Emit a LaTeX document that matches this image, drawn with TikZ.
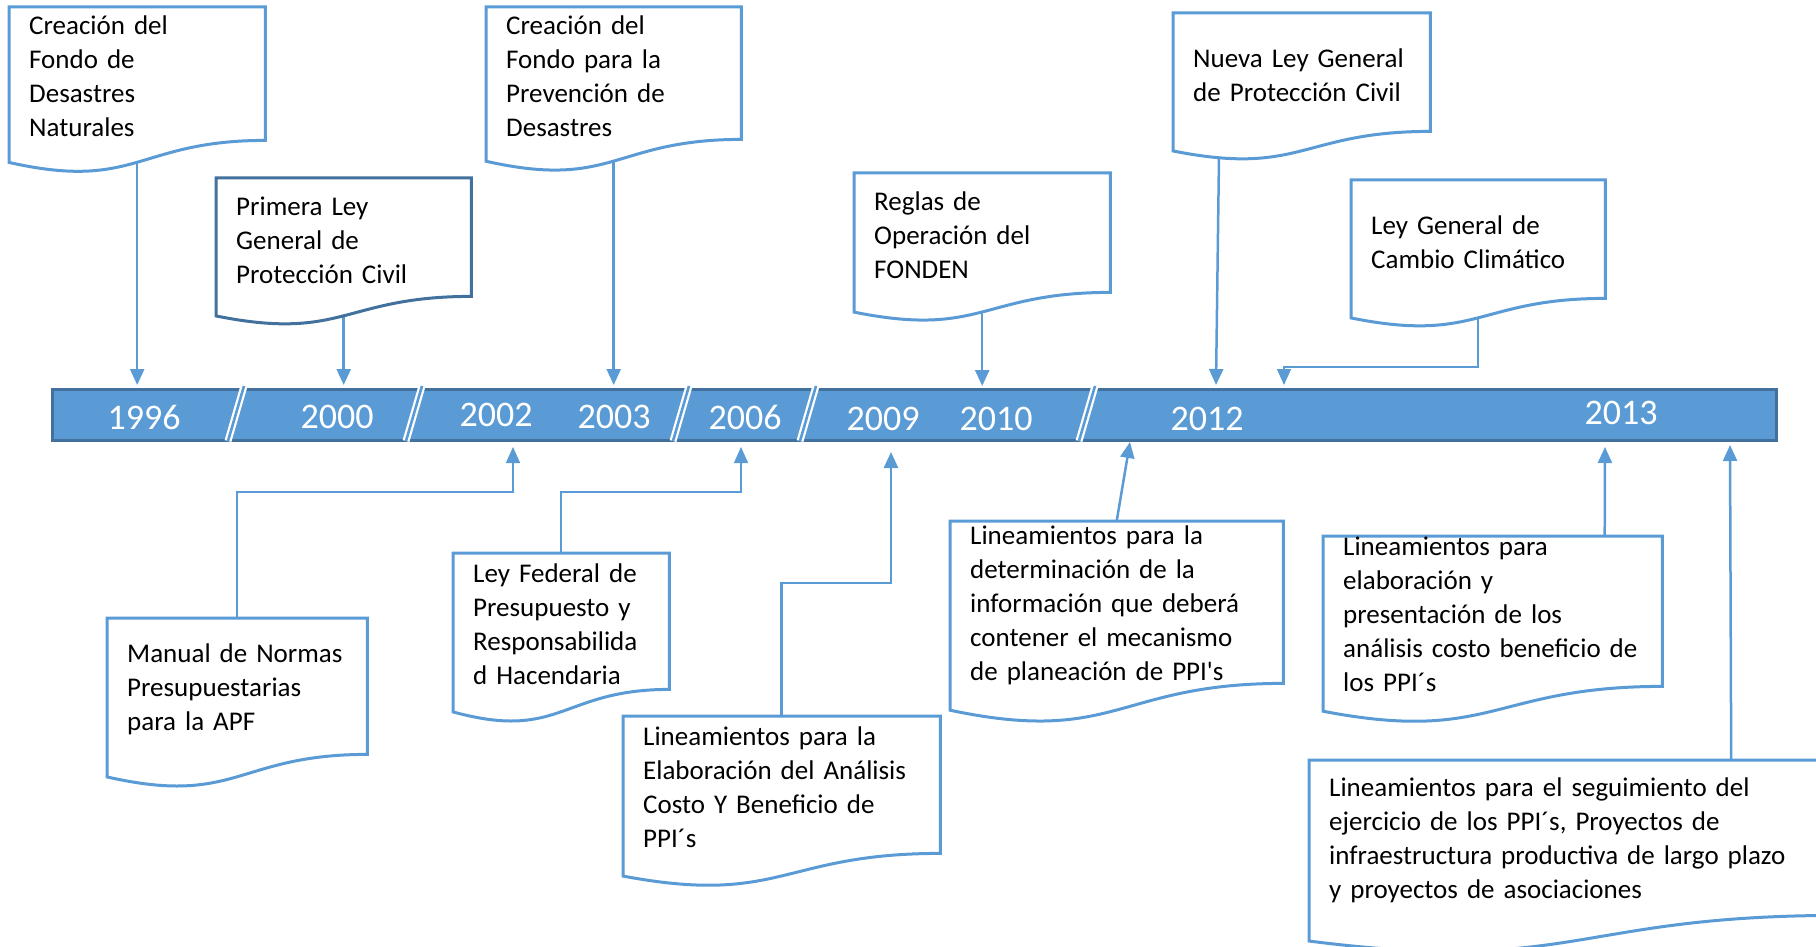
\documentclass[tikz,border=0pt]{standalone}
\usepackage{fontspec}
\setmainfont{Carlito}
\usetikzlibrary{calc,arrows.meta,backgrounds}
\definecolor{boxblue}{HTML}{5B9BD5}
\definecolor{darkblue}{HTML}{41719C}

\tikzset{
  doc/.style={anchor=north west, inner xsep=20pt, inner ysep=-8pt, align=left,
    font=\fontsize{27}{34}\selectfont, execute at begin node={\rule{0pt}{24pt}}},
  docline/.style={draw=#1, line width=3pt, fill=white},
  bar/.style={anchor=north west, minimum width=1724pt, minimum height=51pt, inner sep=0pt,
    fill=boxblue, draw=darkblue, line width=3pt},
  yr/.style={text=white, inner sep=0pt, font=\fontsize{36}{40}\selectfont},
  link/.style={draw=boxblue, line width=2.5pt, -{Triangle[width=14pt,length=16pt]}},
  thinlink/.style={link, line width=1.5pt}
}

\begin{document}
\begin{tikzpicture}[x=1pt,y=-1pt]
\useasboundingbox (0,0) rectangle (1816,947);

% the time line
\node[bar] (bar) at (51,388) {};
\foreach \x in {236,414,681,808,1087} {
  \draw[white, line width=7pt] (\x+8,386) -- (\x-8,441);
  \draw[boxblue, line width=2.6pt] (\x+8,386) -- (\x-8,441);
}
\node[yr] (y1996) at (144,417) {1996};
\node[yr] (y2000) at (337,417) {2000};
\node[yr] (y2002) at (496,415) {2002};
\node[yr] (y2003) at (614,417) {2003};
\node[yr] (y2006) at (745,417) {2006};
\node[yr] (y2009) at (883,419) {2009};
\node[yr] (y2010) at (996,419) {2010};
\node[yr] (y2012) at (1207,419) {2012};
\node[yr] (y2013) at (1621,413) {2013};

% documents above
\node[doc, text width=216pt, minimum height=133pt] (fonden) at (9,7) {Creación del\\Fondo de\\Desastres\\Naturales};
\node[doc, text width=215pt, minimum height=118pt] (ley1) at (216,178) {Primera Ley\\General de\\Protección Civil};
\node[doc, text width=215pt, minimum height=132pt] (fopreden) at (486,7) {Creación del\\Fondo para la\\Prevención de\\Desastres};
\node[doc, text width=216pt, minimum height=119pt] (reglas) at (854,173) {Reglas de\\Operación del\\FONDEN};
\node[doc, text width=217pt, minimum height=118pt] (ley2) at (1173,13) {Nueva Ley General\\de Protección Civil};
\node[doc, text width=214pt, minimum height=118pt] (clima) at (1351,180) {Ley General de\\Cambio Climático};

% documents below
\node[doc, text width=220pt, minimum height=136pt] (manual) at (107,618) {Manual de Normas\\Presupuestarias\\para la APF};
\node[doc, text width=176pt, minimum height=136pt] (lfprh) at (453,553) {Ley Federal de\\Presupuesto y\\Responsabilida\\d Hacendaria};
\node[doc, text width=277pt, minimum height=137pt] (acb) at (623,716) {Lineamientos para la\\Elaboración del Análisis\\Costo Y Beneficio de\\PPI´s};
\node[doc, text width=293pt, minimum height=162pt] (planea) at (950,521) {Lineamientos para la\\determinación de la\\información que deberá\\contener el mecanismo\\de planeación de PPI\textquotesingle s};
\node[doc, text width=299pt, minimum height=150pt] (present) at (1323,536) {Lineamientos para\\elaboración y\\presentación de los\\análisis costo beneficio de\\los PPI´s};
\node[doc, text width=490pt, minimum height=155pt] (segui) at (1309,760) {Lineamientos para el seguimiento del\\ejercicio de los PPI´s, Proyectos de\\infraestructura productiva de largo plazo\\y proyectos de asociaciones};

\coordinate (ley2out) at ($(ley2.south west)!0.18!(ley2.south east)$);
\coordinate (ley2in) at (1216,385);
\coordinate (climabend) at (1284,367);
\coordinate (climain) at (1284,385);

\begin{scope}[on background layer]
  \draw[link, shorten >=3pt] (fonden.south) -- (fonden.south |- bar.north);
  \draw[link, shorten >=3pt] (ley1.south) -- (ley1.south |- bar.north);
  \draw[link, shorten >=3pt] (fopreden.south) -- (fopreden.south |- bar.north);
  \draw[link, shorten >=2pt] (reglas.south) -- (reglas.south |- bar.north);
  \draw[link] (ley2out) -- (ley2in);
  \draw[thinlink] (clima.south) |- (climabend) -- (climain);
  % document outlines
  \foreach \n/\c in {fonden/boxblue, ley1/darkblue, fopreden/boxblue, reglas/boxblue,
      ley2/boxblue, clima/boxblue, manual/boxblue, lfprh/boxblue, acb/boxblue,
      planea/boxblue, present/boxblue, segui/boxblue}
    \draw[docline=\c] (\n.north west) -- (\n.north east) -- (\n.south east)
      .. controls (\n.south) and ($(\n.north)!1.382!(\n.south)$)
      .. ($(\n.north west)!1.165!(\n.south west)$) -- cycle;
\end{scope}

% links from below
\coordinate (t2002) at (513,447);
\coordinate (t2006) at (741,447);
\coordinate (t2009) at (891,452);
\coordinate (t2012) at (1130,442);
\coordinate (presout) at ($(present.north west)!0.83!(present.north east)$);
\coordinate (t2013a) at (1605,447);
\coordinate (seguiout) at ($(segui.north west)!0.796!(segui.north east)$);
\coordinate (t2013b) at (1730,445);
\draw[thinlink] (manual.north) -- ++(0,-126) -| (t2002);
\draw[thinlink] (lfprh.north) -- ++(0,-61) -| (t2006);
\draw[link] (acb.north) -- ++(0,-133) -| (t2009);
\draw[link] (planea.north) -- (t2012);
\draw[link] (presout) -- (t2013a);
\draw[link] (seguiout) -- (t2013b);
\end{tikzpicture}
\end{document}
